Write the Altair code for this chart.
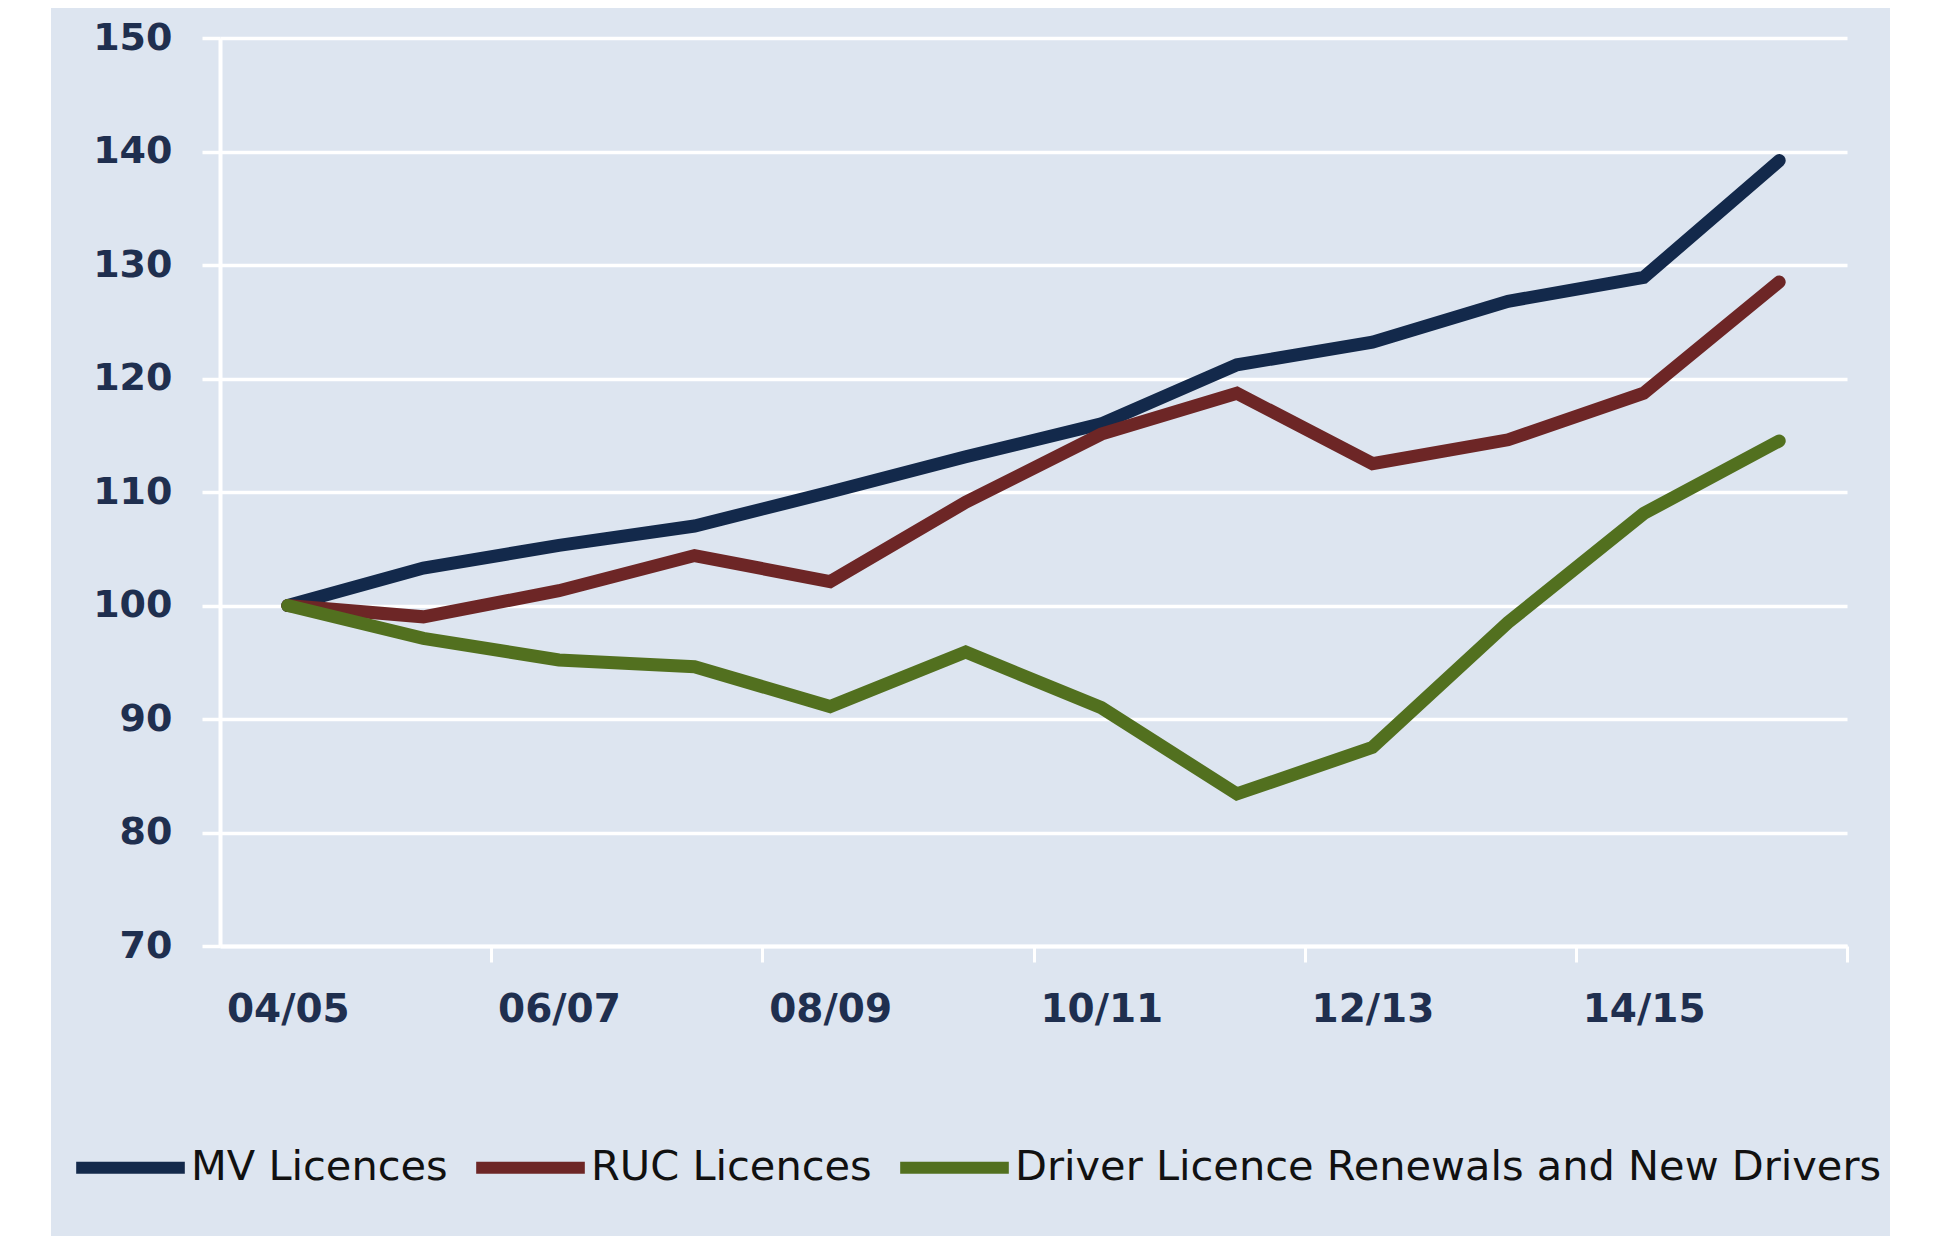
import altair as alt
import pandas as pd

years = ["04/05", "05/06", "06/07", "07/08", "08/09", "09/10",
         "10/11", "11/12", "12/13", "13/14", "14/15", "15/16"]
mv = [100, 103.3, 105.3, 107.0, 110.0, 113.1, 116.0, 121.2, 123.2, 126.8, 128.9, 139.2]
ruc = [100, 99.0, 101.3, 104.4, 102.1, 109.1, 115.1, 118.7, 112.5, 114.6, 118.7, 128.5]
drv = [100, 97.1, 95.2, 94.6, 91.1, 95.9, 91.0, 83.4, 87.5, 98.5, 108.1, 114.5]
series_names = ["MV Licences", "RUC Licences", "Driver Licence Renewals and New Drivers"]
series_colors = ["#13294b", "#6d2626", "#52701f"]
y_ticks = [70, 80, 90, 100, 110, 120, 130, 140, 150]
x_label_values = ["04/05", "06/07", "08/09", "10/11", "12/13", "14/15"]

rows = []
for name, vals in zip(series_names, [mv, ruc, drv]):
    for yr, v in zip(years, vals):
        rows.append({"year": yr, "value": v, "series": name})
df = pd.DataFrame(rows)

BG = "#dde5f0"
LABEL = "#1f2f4f"
W = 1627
BAND = W / len(years)

lines = alt.Chart(df).mark_line(strokeWidth=13, strokeCap="round").encode(
    x=alt.X("year:O", sort=years,
            scale=alt.Scale(type="band", domain=years, paddingInner=0, paddingOuter=0),
            axis=alt.Axis(title=None, values=x_label_values,
                          tickOffset=1.5 * BAND, labelOffset=-1.5 * BAND,
                          labelFont="DejaVu Sans", labelFontWeight="bold", labelFontSize=39,
                          labelColor=LABEL, labelPadding=28, tickSize=16, tickColor="white",
                          tickWidth=3, domainColor="white", domainWidth=4, grid=False,
                          labelAngle=0)),
    y=alt.Y("value:Q",
            scale=alt.Scale(domain=[70, 150], nice=False, zero=False),
            axis=alt.Axis(title=None, values=y_ticks, labelFont="DejaVu Sans",
                          labelFontWeight="bold", labelFontSize=38, labelColor=LABEL,
                          labelPadding=30, tickSize=18, tickColor="white", tickWidth=3.5,
                          domainColor="white", domainWidth=4, grid=True,
                          gridColor="white", gridWidth=3.5, gridOpacity=1)),
    color=alt.Color("series:N",
                    scale=alt.Scale(domain=series_names, range=series_colors),
                    legend=alt.Legend(title=None, orient="none", direction="horizontal",
                                      legendX=-150, legendY=1069,
                                      symbolType="stroke", symbolSize=11800,
                                      symbolStrokeWidth=12, labelFont="DejaVu Sans",
                                      labelFontSize=41.5, labelColor="#111111",
                                      labelOffset=0, columnPadding=4,
                                      labelLimit=1200)),
)

strip = pd.DataFrame({"k": [0]})
left_strip = alt.Chart(strip).mark_rect(color="white").encode(
    x=alt.value(-215), x2=alt.value(-169), y=alt.value(-40), y2=alt.value(1260))
right_strip = alt.Chart(strip).mark_rect(color="white").encode(
    x=alt.value(1670), x2=alt.value(1720), y=alt.value(-40), y2=alt.value(1260))

chart = alt.layer(lines, left_strip, right_strip).properties(
    width=W, height=908,
    autosize=alt.AutoSizeParams(type="none"),
    padding={"left": 212, "top": 30, "right": 81, "bottom": 290},
    background=BG,
).configure_view(stroke=None, fill=BG)

chart.save("out.html", embed_options={"renderer": "svg", "actions": False})
